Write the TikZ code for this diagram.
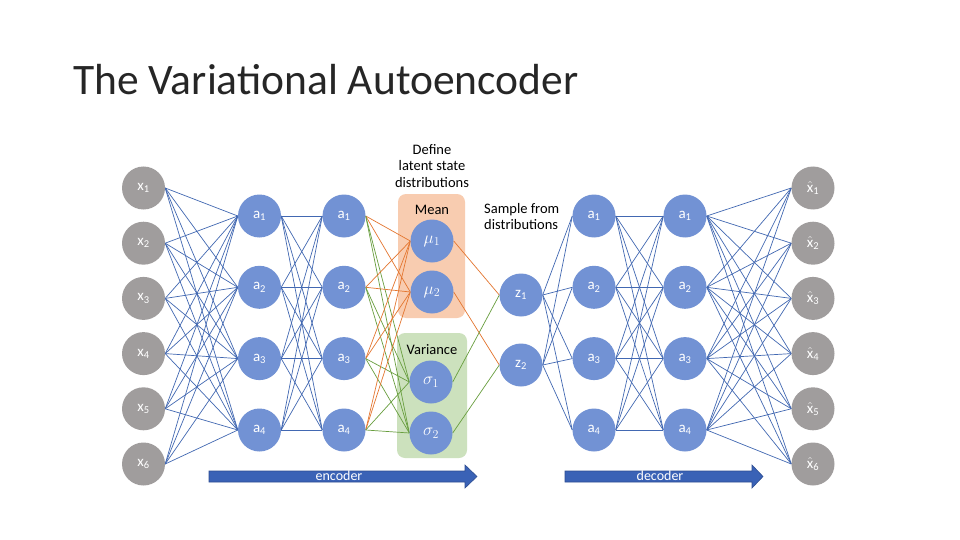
\documentclass[tikz,border=0pt]{standalone}
\usepackage{fontspec}
\setmainfont{Carlito}
\definecolor{nblue}{RGB}{114,146,212}
\definecolor{ngray}{RGB}{160,157,157}
\definecolor{eblue}{RGB}{66,104,178}
\definecolor{eorange}{RGB}{228,118,48}
\definecolor{egreen}{RGB}{104,158,62}
\definecolor{meanfill}{RGB}{248,204,176}
\definecolor{varfill}{RGB}{204,225,189}
\definecolor{arrowblue}{RGB}{58,98,182}
\pgfdeclarelayer{boxes}
\pgfdeclarelayer{edges}
\pgfsetlayers{boxes,edges,main}
\begin{document}
\begin{tikzpicture}[x=1pt,y=-1pt,
  neuron/.style={circle,minimum size=43pt,inner sep=0pt,fill=nblue,text=white,font=\fontsize{15}{15}\selectfont},
  inneuron/.style={neuron,fill=ngray},
  mathneuron/.style={neuron,font=\fontsize{18}{18}\selectfont},
  wire/.style={draw=eblue,line width=0.7pt},
  owire/.style={draw=eorange,line width=0.7pt},
  gwire/.style={draw=egreen,line width=0.7pt},
  lbl/.style={font=\fontsize{14.5}{16.5}\selectfont,align=center,inner sep=0pt},
  bigarrow/.style={fill=arrowblue,draw=arrowblue!80!black,line width=0.6pt},
  arrowtext/.style={text=white,font=\fontsize{14}{14}\selectfont,inner sep=0pt}]
\begin{pgfonlayer}{boxes}
\useasboundingbox[fill=white] (0,0) rectangle (960,540);
\fill[meanfill,rounded corners=8pt] (398,194) rectangle (465,318);
\fill[varfill,rounded corners=8pt] (397,333) rectangle (467,458);
\end{pgfonlayer}

% title
\node[anchor=west,inner sep=0pt,text=black!85,font=\fontsize{43.5}{43.5}\selectfont] (title) at (73,80) {The Variational Autoencoder};

\node[lbl] (meanlbl) at (432,210) {Mean};
\node[lbl] (varlbl) at (432,350) {Variance};
\node[lbl] (define) at (432,166) {Define\\latent state\\distributions};
\node[lbl,align=left,anchor=west] (sample) at (484,216.5) {Sample from\\distributions};

% nodes
\foreach \i/\y in {1/188,2/243.2,3/298.4,4/353.6,5/408.8,6/464}{
  \node[inneuron] (x\i) at (143.5,\y) {x\textsubscript{\i}};
  \node[inneuron] (o\i) at (813,\y) {$\hat{\mbox{x}}$\textsubscript{\i}};
}
\foreach \i/\y in {1/216,2/287.3,3/358.6,4/430}{
  \node[neuron] (ea\i) at (259.5,\y) {a\textsubscript{\i}};
  \node[neuron] (eb\i) at (344,\y) {a\textsubscript{\i}};
  \node[neuron] (da\i) at (594,\y) {a\textsubscript{\i}};
  \node[neuron] (db\i) at (685,\y) {a\textsubscript{\i}};
}
\node[mathneuron] (mu1) at (432,241) {$\mu_1$};
\node[mathneuron] (mu2) at (432,292) {$\mu_2$};
\node[mathneuron] (sg1) at (431,382) {$\sigma_1$};
\node[mathneuron] (sg2) at (431,433) {$\sigma_2$};
\node[neuron] (z1) at (521,295) {z\textsubscript{1}};
\node[neuron] (z2) at (521,365) {z\textsubscript{2}};

% edges
\begin{pgfonlayer}{edges}
\foreach \i in {1,...,6}{
  \foreach \j in {1,...,4}{
    \draw[wire] (x\i.east) -- (ea\j.west);
    \draw[wire] (db\j.east) -- (o\i.west);
  }
}
\foreach \i in {1,...,4}{
  \foreach \j in {1,...,4}{
    \draw[wire] (ea\i.east) -- (eb\j.west);
    \draw[wire] (da\i.east) -- (db\j.west);
  }
  \draw[owire] (eb\i.east) -- (mu1.west);
  \draw[owire] (eb\i.east) -- (mu2.west);
  \draw[gwire] (eb\i.east) -- (sg1.west);
  \draw[gwire] (eb\i.east) -- (sg2.west);
  \draw[wire] (z1.east) -- (da\i.west);
  \draw[wire] (z2.east) -- (da\i.west);
}
\draw[owire] (mu1.east) -- (z1.west);
\draw[owire] (mu2.east) -- (z2.west);
\draw[gwire] (sg1.east) -- (z1.west);
\draw[gwire] (sg2.east) -- (z2.west);
\end{pgfonlayer}

% arrows
\draw[bigarrow] (209,471) -- (465,471) -- (465,465) -- (477,476.5) -- (465,488) -- (465,482) -- (209,482) -- cycle;
\node[arrowtext] (enc) at (339,476) {encoder};
\draw[bigarrow] (565,471) -- (752,471) -- (752,465) -- (763,476.5) -- (752,488) -- (752,482) -- (565,482) -- cycle;
\node[arrowtext] (dec) at (660,476) {decoder};
\end{tikzpicture}
\end{document}
